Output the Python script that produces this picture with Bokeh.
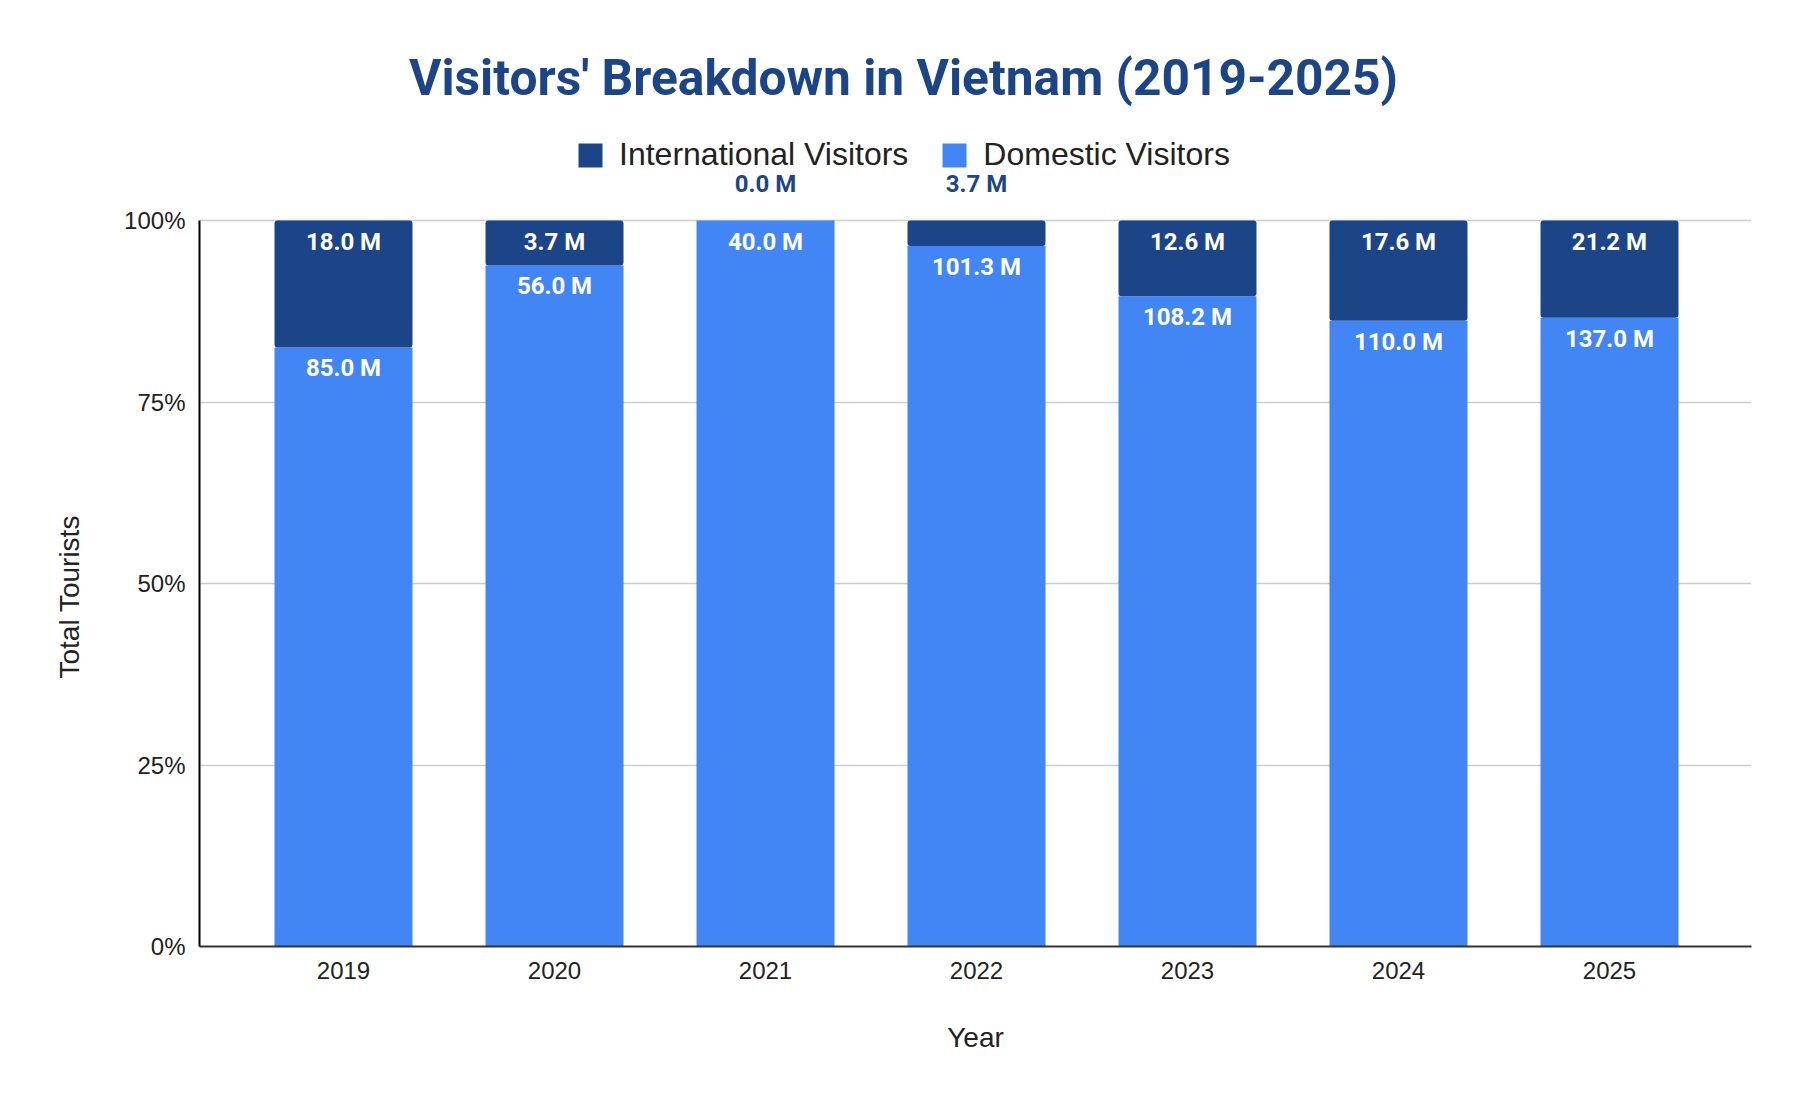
# plot.py
#
# Visitors' breakdown in Vietnam, 2019-2025 (100% stacked bars)
#
# Basic usage:
#	python3 plot.py

# ========
# SETTINGS
# ========

# Libraries
import numpy as np
from bokeh import plotting
from bokeh import models
from bokeh.core.properties import value
from bokeh.embed import file_html
from bokeh.resources import INLINE

# Data (millions of visitors)
years = ['2019', '2020', '2021', '2022', '2023', '2024', '2025']
international = [18.0, 3.7, 0.0, 3.7, 12.6, 17.6, 21.2]
domestic = [85.0, 56.0, 40.0, 101.3, 108.2, 110.0, 137.0]

# Texts
title_text = "Visitors' Breakdown in Vietnam (2019-2025)"
series_names = ['International Visitors', 'Domestic Visitors']
x_title = 'Year'
y_title = 'Total Tourists'
y_ticks = [0, 0.25, 0.5, 0.75, 1]

# Colours
dark_blue = '#1c4587'
light_blue = '#4285f4'
text_dark = '#222222'

# ====
# MAIN
# ====

def main():
	'''main'''

	# Shares of the yearly total
	intl = np.array(international)
	dom = np.array(domestic)
	total = intl + dom
	x = np.arange(len(years))
	intl_share = intl / total

	# Sources
	source = models.ColumnDataSource(data=dict(
		x=x,
		dom_share=dom / total,
		intl_share=intl_share,
		top=np.ones(len(years)),
		dom_label=['%.1f M' % v for v in domestic],
		intl_label=['%.1f M' % v for v in international],
		))

	# Small segments get their label above the plot
	inside = intl_share >= 0.05
	src_in = models.ColumnDataSource(data=dict(
		x=x[inside], top=np.ones(inside.sum()),
		text=[t for t, k in zip(source.data['intl_label'], inside) if k]))
	src_out = models.ColumnDataSource(data=dict(
		x=x[~inside], top=np.ones((~inside).sum()),
		text=[t for t, k in zip(source.data['intl_label'], inside) if not k]))

	# Create figure (frame runs up to the title, y axis drawn only 0-100%)
	p = plotting.figure(
		width=1790, height=1088,
		x_range=models.Range1d(-0.6825, 6.673),
		y_range=models.Range1d(0, 1.28926),
		min_border_left=199, min_border_right=39,
		min_border_top=10, min_border_bottom=142,
		output_backend='svg',
		toolbar_location=None,
		)

	# Stacked bars
	rs = p.vbar_stack(['dom_share', 'intl_share'], x='x', width=0.654,
		color=[light_blue, dark_blue], line_color=None, source=source)
	rs[1].glyph.border_radius = 3

	# Bar labels
	font = value('Roboto')
	p.add_layout(models.LabelSet(x='x', y='dom_share', text='dom_label', source=source,
		y_offset=-21, text_align='center', text_baseline='middle', text_color='white',
		text_font=font, text_font_style='bold', text_font_size='24px'))
	p.add_layout(models.LabelSet(x='x', y='top', text='text', source=src_in,
		y_offset=-21, text_align='center', text_baseline='middle', text_color='white',
		text_font=font, text_font_style='bold', text_font_size='24px'))
	p.add_layout(models.LabelSet(x='x', y='top', text='text', source=src_out,
		y_offset=37, text_align='center', text_baseline='middle', text_color=dark_blue,
		text_font=font, text_font_style='bold', text_font_size='24px'))

	# Title
	p.add_layout(models.Label(x=704, y=869, x_units='screen', y_units='screen',
		text=title_text, text_align='center', text_baseline='middle',
		text_font='Roboto', text_font_style='bold', text_font_size='49.7px',
		text_color=dark_blue))

	# Legend
	legend = models.Legend(
		items=[models.LegendItem(label=series_names[0], renderers=[rs[1]]),
			models.LegendItem(label=series_names[1], renderers=[rs[0]])],
		orientation='horizontal', location=(376, 773),
		glyph_width=30, glyph_height=30, label_standoff=14, spacing=31,
		padding=0, margin=0, border_line_color=None, background_fill_alpha=0,
		label_text_font='Liberation Sans', label_text_font_size='32px',
		label_text_color=text_dark)
	p.add_layout(legend)

	# Y title, placed along the 0-100% part of the axis
	ytitle = models.Title(text=y_title, align='left', offset=268, standoff=74,
		text_font='Liberation Sans', text_font_size='28px', text_font_style='normal',
		text_color=text_dark)
	p.add_layout(ytitle, 'left')

	# Axes
	p.xaxis.ticker = models.FixedTicker(ticks=[int(i) for i in x])
	p.xaxis.major_label_overrides = {int(i): y for i, y in zip(x, years)}
	p.yaxis.ticker = models.FixedTicker(ticks=y_ticks)
	p.yaxis.formatter = models.NumeralTickFormatter(format='0%')
	p.yaxis.bounds = (0, 1)
	p.xaxis.axis_label = x_title

	# Tidy
	p.outline_line_color = None
	p.xgrid.visible = False
	p.ygrid.grid_line_color = '#cccccc'
	p.ygrid.grid_line_width = 1.5
	p.axis.major_tick_in = 0
	p.axis.major_tick_out = 0
	p.axis.minor_tick_line_color = None
	p.axis.axis_line_width = 2
	p.xaxis.axis_line_color = '#333333'
	p.yaxis.axis_line_color = '#000000'
	p.axis.major_label_text_font = 'Liberation Sans'
	p.axis.major_label_text_font_size = '24px'
	p.axis.major_label_text_color = text_dark
	p.xaxis.major_label_standoff = 15
	p.yaxis.major_label_standoff = 14
	p.xaxis.axis_label_text_font = 'Liberation Sans'
	p.xaxis.axis_label_text_font_size = '28px'
	p.xaxis.axis_label_text_font_style = 'normal'
	p.xaxis.axis_label_text_color = text_dark
	p.xaxis.axis_label_standoff = 40

	# Save figure
	open('out.html', 'w').write(file_html(p, INLINE))

# ====
# CALL
# ====

main()
